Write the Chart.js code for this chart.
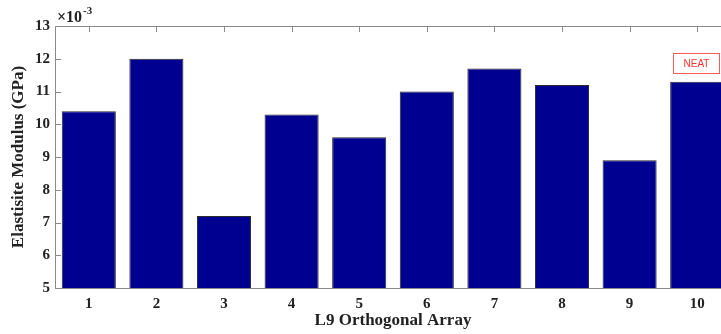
<!DOCTYPE html>
<html>
<head>
<meta charset="utf-8">
<script src="https://cdn.jsdelivr.net/npm/chart.js@4/dist/chart.umd.min.js"></script>
<style>
html,body{margin:0;padding:0;overflow:hidden;background:#fff;}
#wrap{width:731px;height:334px;position:relative;}
</style>
</head>
<body>
<div id="wrap"><canvas id="c"></canvas></div>
<script>
// Data (values in units of 1e-3 GPa)
const categories = ['1','2','3','4','5','6','7','8','9','10'];
const modulusValues = [10.4, 12.0, 7.2, 10.3, 9.6, 11.0, 11.7, 11.2, 8.9, 11.3];
const yTicks = [5, 6, 7, 8, 9, 10, 11, 12, 13];
const seriesName = 'NEAT';
const exponentText = '-3';

const serif = "'Liberation Serif','Times New Roman',serif";
const axisColor = '#8a8a8a';

const framePlugin = {
  id: 'frame',
  afterDatasetsDraw(chart) {
    const {ctx, chartArea: a, scales} = chart;
    ctx.save();
    ctx.strokeStyle = axisColor;
    ctx.lineWidth = 1;
    // frame
    ctx.beginPath();
    ctx.moveTo(a.left + 0.5, a.bottom + 0.5);
    ctx.lineTo(a.left + 0.5, a.top + 0.5);
    ctx.lineTo(a.right - 0.5, a.top + 0.5);
    ctx.lineTo(a.right - 0.5, a.bottom + 0.5);
    ctx.closePath();
    ctx.stroke();
    // inward ticks on x (top & bottom)
    const tl = 6;
    ctx.beginPath();
    categories.forEach((c, i) => {
      const x = Math.round(scales.x.getPixelForValue(i)) + 0.5;
      ctx.moveTo(x, a.top); ctx.lineTo(x, a.top + tl);
    });
    // inward ticks on y (left & right)
    yTicks.forEach(v => {
      const y = Math.round(scales.y.getPixelForValue(v)) + 0.5;
      ctx.moveTo(a.left, y); ctx.lineTo(a.left + tl, y);
      ctx.moveTo(a.right, y); ctx.lineTo(a.right - tl, y);
    });
    ctx.stroke();
    // exponent label
    ctx.fillStyle = '#222';
    ctx.textBaseline = 'alphabetic';
    ctx.textAlign = 'left';
    ctx.font = "bold 16px " + serif;
    const ex = a.left + 2, ey = a.top - 4;
    ctx.fillText('\u00d710', ex, ey);
    const w = ctx.measureText('\u00d710').width;
    ctx.font = "bold 11px " + serif;
    ctx.fillText(exponentText, ex + w + 1, ey - 8);
    // legend box
    const lx = 673, ly = 53, lw = 47, lh = 21;
    ctx.fillStyle = '#fff';
    ctx.fillRect(lx, ly, lw, lh);
    ctx.strokeStyle = '#ff5a5a';
    ctx.strokeRect(lx + 0.5, ly + 0.5, lw - 1, lh - 1);
    ctx.fillStyle = '#ff3030';
    ctx.font = "10px 'Liberation Sans', Arial, sans-serif";
    ctx.textAlign = 'center';
    ctx.textBaseline = 'middle';
    ctx.fillText(seriesName, lx + lw / 2, ly + lh / 2 + 0.5);
    ctx.restore();
  }
};

new Chart(document.getElementById('c'), {
  type: 'bar',
  data: {
    labels: categories,
    datasets: [{
      label: seriesName,
      data: modulusValues,
      backgroundColor: '#000090',
      borderColor: '#2a2a2a',
      borderWidth: 1,
      barPercentage: 0.8,
      categoryPercentage: 1.0,
      borderSkipped: false
    }]
  },
  options: {
    responsive: true,
    maintainAspectRatio: false,
    animation: false,
    devicePixelRatio: 1,
    layout: { padding: { top: 26, right: 0, left: 0, bottom: 0 } },
    plugins: { legend: { display: false }, tooltip: { enabled: false } },
    scales: {
      x: {
        offset: true,
        grid: { display: false, drawTicks: false },
        border: { display: false },
        ticks: { color: '#222', font: { family: serif, size: 15, weight: 'bold' }, padding: 7 },
        title: { display: true, text: 'L9 Orthogonal Array', color: '#222', font: { family: serif, size: 17, weight: 'bold' }, padding: { top: 0, bottom: 3 } },
        afterFit(s) { s.height = 46; }
      },
      y: {
        min: 5, max: 13,
        afterBuildTicks(s) { s.ticks = yTicks.map(v => ({ value: v })); },
        grid: { display: false, drawTicks: false },
        border: { display: false },
        ticks: { color: '#222', font: { family: serif, size: 15, weight: 'bold' }, padding: 5 },
        title: { display: true, text: 'Elastisite Modulus (GPa)', color: '#222', font: { family: serif, size: 17, weight: 'bold' }, padding: { top: 8, bottom: 0 } },
        afterFit(s) { s.width = 55; }
      }
    }
  },
  plugins: [framePlugin]
});
</script>
</body>
</html>
